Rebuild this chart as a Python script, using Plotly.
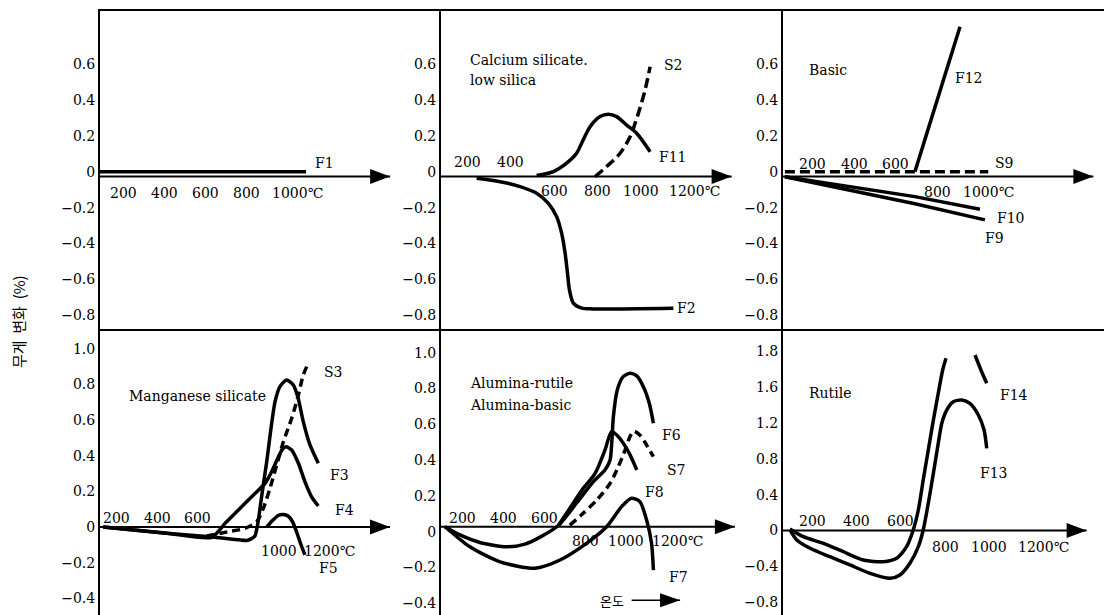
import plotly.graph_objects as go

SERIF = "DejaVu Serif"
KR = "Noto Sans CJK KR"

# ---------------- data: temperature (°C) vs weight change (%) ----------------
# Panel 1 (top-left)
F1_T = [85, 1090]
F1_V = [0.0, 0.0]

# Panel 2: Calcium silicate, low silica
F2_T = [242, 350, 442, 518, 572, 610, 633, 649, 660, 669, 687, 726, 779, 1147]
F2_V = [-0.037, -0.056, -0.083, -0.120, -0.176, -0.25, -0.342, -0.453, -0.564, -0.657, -0.731, -0.759, -0.763, -0.759]
F11_T = [518, 595, 656, 702, 725, 764, 810, 848, 886, 932, 978, 1040]
F11_V = [-0.022, 0.0, 0.047, 0.102, 0.158, 0.25, 0.306, 0.319, 0.306, 0.259, 0.213, 0.111]
S2_T = [787, 840, 902, 948, 986, 1017, 1040]
S2_V = [-0.028, 0.028, 0.102, 0.194, 0.324, 0.454, 0.583]

# Panel 3: Basic
S9_T = [67, 1046]
S9_V = [0.0, 0.0]
F12_T = [693, 910]
F12_V = [0.0, 0.805]
F10_T = [67, 693, 1006]
F10_V = [-0.028, -0.139, -0.209]
F9_T = [67, 693, 1030]
F9_V = [-0.028, -0.179, -0.268]

# Panel 4: Manganese silicate
F3_T = [134, 447, 660, 800, 840, 860, 881, 894, 906, 922, 939, 960, 980, 1004, 1037, 1070, 1094, 1119, 1152, 1193]
F3_V = [0.0, -0.035, -0.054, -0.072, -0.076, -0.068, -0.050, 0.011, 0.105, 0.236, 0.367, 0.554, 0.704, 0.789, 0.826, 0.798, 0.723, 0.592, 0.461, 0.358]
F4_T = [134, 447, 668, 740, 800, 870, 931, 965, 995, 1015, 1034, 1062, 1095, 1127, 1160, 1193]
F4_V = [0.0, -0.035, -0.058, 0.028, 0.096, 0.176, 0.245, 0.315, 0.39, 0.435, 0.451, 0.433, 0.358, 0.255, 0.170, 0.118]
S3_T = [643, 750, 832, 890, 922, 955, 988, 1021, 1062, 1095, 1119, 1136]
S3_V = [-0.05, -0.026, -0.007, 0.030, 0.105, 0.217, 0.348, 0.479, 0.611, 0.742, 0.854, 0.901]
F5_T = [939, 970, 995, 1021, 1044, 1064, 1083, 1103, 1127]
F5_V = [0.0, 0.039, 0.065, 0.071, 0.062, 0.034, -0.017, -0.084, -0.157]

# Panel 5: Alumina-rutile / Alumina-basic
F6_T = [117, 190, 287, 417, 507, 580, 669, 757, 839, 896, 921, 929, 937, 956, 985, 1018, 1051, 1083, 1112, 1132]
F6_V = [0.028, -0.018, -0.060, -0.084, -0.069, -0.030, 0.035, 0.159, 0.279, 0.345, 0.401, 0.494, 0.642, 0.792, 0.866, 0.885, 0.870, 0.810, 0.717, 0.606]
F8_T = [669, 725, 790, 848, 896, 929, 961, 1010, 1051]
F8_V = [0.035, 0.131, 0.242, 0.326, 0.456, 0.559, 0.531, 0.447, 0.345]
S7_T = [725, 790, 856, 921, 961, 994, 1018, 1037, 1066, 1099, 1132]
S7_V = [0.037, 0.103, 0.177, 0.270, 0.363, 0.456, 0.531, 0.562, 0.540, 0.484, 0.419]
F7_T = [117, 238, 385, 555, 677, 806, 904, 977, 1025, 1066, 1099, 1123, 1132]
F7_V = [0.028, -0.084, -0.168, -0.204, -0.158, -0.065, 0.028, 0.140, 0.187, 0.168, 0.065, -0.065, -0.214]

# Panel 6: Rutile (axis units; top tick is labelled 1.8 in the original)
F14_T = [99, 159, 250, 340, 430, 521, 581, 626, 656, 679, 701, 724, 747, 769, 789, 804, None, 935, 965, 988]
F14_V = [0.017, -0.069, -0.143, -0.237, -0.330, -0.349, -0.311, -0.181, 0.006, 0.229, 0.564, 0.899, 1.235, 1.533, 1.793, 1.924, None, 1.961, 1.774, 1.645]
F13_T = [99, 130, 190, 280, 370, 461, 551, 596, 641, 679, 701, 724, 747, 769, 785, 807, 837, 875, 912, 950, 976, 988]
F13_V = [0.006, -0.106, -0.199, -0.293, -0.385, -0.478, -0.534, -0.497, -0.366, -0.181, 0.006, 0.304, 0.639, 0.974, 1.198, 1.346, 1.439, 1.458, 1.421, 1.291, 1.123, 0.918]

# tick labels
TOP_YT = [-0.8, -0.6, -0.4, -0.2, 0, 0.2, 0.4, 0.6]
TOP_YL = ["−0.8", "−0.6", "−0.4", "−0.2", "0", "0.2", "0.4", "0.6"]
MID_YT = [-0.4, -0.2, 0, 0.2, 0.4, 0.6, 0.8, 1.0]
MID_YL = ["−0.4", "−0.2", "0", "0.2", "0.4", "0.6", "0.8", "1.0"]
RUT_YT = [-0.8, -0.4, 0, 0.4, 0.8, 1.2, 1.6, 2.0]
RUT_YL = ["−0.8", "−0.4", "0", "0.4", "0.8", "1.2", "1.6", "1.8"]

XT_ABOVE = {1: [], 2: [200, 400], 3: [200, 400, 600], 4: [200, 400, 600], 5: [200, 400, 600], 6: [200, 400, 600]}
XT_BELOW = {1: [200, 400, 600, 800, 1000], 2: [600, 800, 1000, 1200], 3: [800, 1000],
            4: [1000, 1200], 5: [800, 1000, 1200], 6: [800, 1000, 1200]}

# text labels: (panel, text, T, value)
LABELS = [
    (1, "F1", 1124, 0.047),
    (2, "Calcium silicate.", 204, 0.621), (2, "low silica", 204, 0.509),
    (2, "S2", 1093, 0.593), (2, "F11", 1070, 0.083), (2, "F2", 1155, -0.757),
    (3, "Basic", 172, 0.565), (3, "F12", 878, 0.519), (3, "S9", 1071, 0.047),
    (3, "F10", 1079, -0.259), (3, "F9", 1022, -0.37),
    (4, "Manganese silicate", 250, 0.738), (4, "S3", 1210, 0.872), (4, "F3", 1242, 0.292),
    (4, "F4", 1267, 0.096), (4, "F5", 1185, -0.232),
    (5, "Alumina-rutile", 230, 0.829), (5, "Alumina-basic", 230, 0.708), (5, "F6", 1164, 0.54),
    (5, "S7", 1188, 0.345), (5, "F8", 1083, 0.223), (5, "F7", 1197, -0.251),
    (6, "Rutile", 175, 1.533), (6, "F14", 1040, 1.514), (6, "F13", 950, 0.639),
]

# ---------------- geometry ----------------
W, H = 1104, 615
def xd(a, b): return [a / W, b / W]
def yd(a, b): return [1 - b / H, 1 - a / H]

DOMX = {1: xd(100, 441), 2: xd(441, 783), 3: xd(783, 1104), 4: xd(100, 441), 5: xd(441, 783), 6: xd(783, 1104)}
DOMY = {1: yd(11, 331), 2: yd(11, 331), 3: yd(11, 331), 4: yd(331, 615), 5: yd(331, 615), 6: yd(331, 615)}
XR = {1: [84.9, 1748.3], 2: [78.2, 1651.3], 3: [57.8, 1603.3], 4: [118.2, 1797.1], 5: [97.4, 1763.3], 6: [67.8, 1517.6]}
YR = {1: [-0.886, 0.893], 2: [-0.886, 0.893], 3: [-0.886, 0.893], 4: [-0.494, 1.101], 5: [-0.465, 1.121], 6: [-0.944, 2.229]}
YT = {1: (TOP_YT, TOP_YL), 2: (TOP_YT, TOP_YL), 3: (TOP_YT, TOP_YL), 4: (MID_YT, MID_YL), 5: (MID_YT, MID_YL), 6: (RUT_YT, RUT_YL)}
BASE = {1: -0.027, 2: -0.027, 3: -0.027, 4: 0.0, 5: 0.028, 6: 0.0}
TIP = {1: 1500, 2: 1415, 3: 1552, 4: 1546, 5: 1529, 6: 1439}
UP = {2: 14, 3: 12.5, 4: 9.5, 5: 8.3, 6: 10}
DOWN = {1: -17, 2: -14.5, 3: -16, 4: -24, 5: -14, 6: -16.5}

fig = go.Figure()

def sfx(p): return "" if p == 1 else str(p)

def curve(T, V, p, dash="solid", shape="spline", smooth=0.8):
    s = sfx(p)
    line = dict(color="black", width=3.5, dash=dash, shape=shape)
    if shape == "spline":
        line["smoothing"] = smooth
    fig.add_trace(go.Scatter(x=T, y=V, xaxis="x" + s, yaxis="y" + s, mode="lines",
                             line=line, hoverinfo="skip", showlegend=False, connectgaps=False))

DASH = "10px,5px"
curve(F1_T, F1_V, 1, shape="linear")
curve(F2_T, F2_V, 2)
curve(F11_T, F11_V, 2)
curve(S2_T, S2_V, 2, dash=DASH)
curve(F12_T, F12_V, 3, shape="linear")
curve(F10_T, F10_V, 3, shape="linear")
curve(F9_T, F9_V, 3, shape="linear")
curve(S9_T, S9_V, 3, dash=DASH, shape="linear")
curve(F3_T, F3_V, 4, smooth=0.6)
curve(F4_T, F4_V, 4, smooth=0.6)
curve(S3_T, S3_V, 4, dash="8px,5px")
curve(F5_T, F5_V, 4)
curve(F6_T, F6_V, 5, smooth=0.7)
curve(F8_T, F8_V, 5)
curve(S7_T, S7_V, 5, dash="8px,5px")
curve(F7_T, F7_V, 5, smooth=0.7)
curve(F14_T, F14_V, 6, smooth=0.7)
curve(F13_T, F13_V, 6, smooth=0.7)

layout = dict(width=W, height=H, margin=dict(l=0, r=0, t=0, b=0),
              paper_bgcolor="white", plot_bgcolor="white", template="none",
              showlegend=False, font=dict(family=SERIF, size=14, color="black"))
shapes, anns = [], []
for p in range(1, 7):
    s = sfx(p)
    layout["xaxis" + s] = dict(domain=DOMX[p], range=XR[p], anchor="y" + s, side="top",
                               showline=True, linecolor="black", linewidth=2, showgrid=False,
                               zeroline=False, showticklabels=False, ticks="", fixedrange=True)
    tv, tt = YT[p]
    layout["yaxis" + s] = dict(domain=DOMY[p], range=YR[p], anchor="x" + s, side="left",
                               showline=True, linecolor="black", linewidth=2, showgrid=False,
                               zeroline=False, ticks="", tickvals=tv, ticktext=tt,
                               tickfont=dict(family=SERIF, size=14, color="black"), fixedrange=True)
    # zero-line arrow
    shapes.append(dict(type="line", xref="x" + s, yref="y" + s, x0=XR[p][0], x1=TIP[p],
                       y0=BASE[p], y1=BASE[p], line=dict(color="black", width=2)))
    shapes.append(dict(type="path", xref="x" + s, yref="y" + s, xsizemode="pixel", ysizemode="pixel",
                       xanchor=TIP[p], yanchor=BASE[p], path="M0,0 L-20,7.5 L-20,-7.5 Z",
                       fillcolor="black", line=dict(color="black", width=0)))
    # temperature labels on the arrow
    for t in XT_ABOVE[p]:
        anns.append(dict(text=str(t), x=t, y=BASE[p], xref="x" + s, yref="y" + s, showarrow=False,
                         xanchor="center", yanchor="middle", yshift=UP.get(p, 0),
                         font=dict(family=SERIF, size=14, color="black")))
    below = XT_BELOW[p]
    for i, t in enumerate(below):
        last = i == len(below) - 1
        anns.append(dict(text=f"{t}℃" if last else str(t), x=t, y=BASE[p], xref="x" + s, yref="y" + s,
                         showarrow=False, xanchor="left" if last else "center", yanchor="middle",
                         xshift=-len(str(t)) * 8.9 / 2 if last else 0, yshift=DOWN[p],
                         font=dict(family=SERIF, size=14, color="black")))

for p, txt, t, v in LABELS:
    s = sfx(p)
    anns.append(dict(text=txt, x=t, y=v, xref="x" + s, yref="y" + s, showarrow=False,
                     xanchor="left", yanchor="middle", font=dict(family=SERIF, size=14, color="black")))

# temperature arrow in panel 5
shapes.append(dict(type="line", xref="x5", yref="y5", x0=1026, x1=1262, y0=-0.382, y1=-0.382,
                   line=dict(color="black", width=1.5)))
shapes.append(dict(type="path", xref="x5", yref="y5", xsizemode="pixel", ysizemode="pixel",
                   xanchor=1262, yanchor=-0.382, path="M0,0 L-20,7 L-20,-7 Z",
                   fillcolor="black", line=dict(color="black", width=0)))
anns.append(dict(text="온도", x=929, y=-0.382, xref="x5", yref="y5", showarrow=False,
                 xanchor="center", yanchor="middle", font=dict(family=KR, size=13, color="black")))

# y-axis title
anns.append(dict(text="무게  변화  (%)", x=18 / W, y=1 - 322 / H, xref="paper", yref="paper",
                 showarrow=False, textangle=-90, xanchor="center", yanchor="middle",
                 font=dict(family=KR, size=15, color="black")))

layout["shapes"] = shapes
layout["annotations"] = anns
fig.update_layout(**layout)
fig.write_html("out.html", config={"displayModeBar": False},
               post_script="document.body.style.margin='0';document.body.style.overflow='hidden';")
